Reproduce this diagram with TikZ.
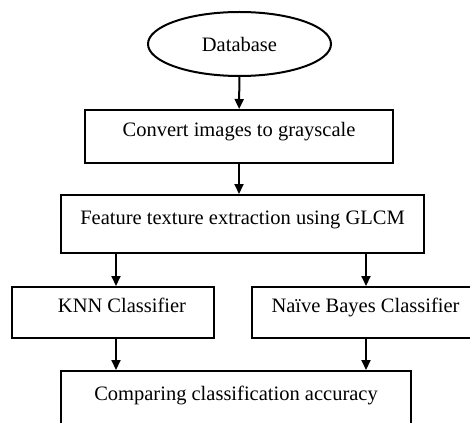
\documentclass[tikz,border=0pt]{standalone}
\usepackage{fontspec}
\setmainfont{Liberation Serif}
\usepackage{tikz}
\usetikzlibrary{shapes.geometric,arrows.meta}

\begin{document}
\begin{tikzpicture}[x=1pt,y=-1pt,font=\fontsize{20.5}{24}\selectfont]

%
% Styles
%
\tikzstyle{stepbox} = [rectangle,draw=black,line width=2pt,inner xsep=0pt,inner ysep=0pt]
\tikzstyle{source} = [ellipse,draw=black,line width=2pt,inner sep=0pt,minimum width=183pt,minimum height=64pt]
\tikzstyle{flow} = [line width=2pt,-{Triangle[width=9pt,length=10pt]}]

\clip (0,0) rectangle (470,422);

\node[source] (db) at (239.5, 44) {Database};
\node[stepbox,minimum width=308pt,text height=26.5pt,text depth=26.5pt] (conv) at (239, 136.5) {Convert images to grayscale};
\node[stepbox,minimum width=363pt,text height=29pt,text depth=29pt] (feat) at (242.5, 224) {Feature texture extraction using GLCM};
\node[stepbox,minimum width=202pt,text height=25.5pt,text depth=25.5pt] (knn) at (113, 312.5) {\hspace*{18pt}KNN Classifier};
\node[stepbox,minimum width=227pt,text height=25.5pt,text depth=25.5pt] (nb) at (365.5, 312.5) {Naïve Bayes Classifier};
\node[stepbox,minimum width=350pt,text height=29pt,text depth=29pt] (cmp) at (236, 400) {Comparing classification accuracy};

\coordinate (lx) at (116, 0);
\coordinate (rx) at (366, 0);

\draw[flow] (db) -- (conv);
\draw[flow] (conv) -- (feat.north -| conv);
\draw[flow] (feat.south -| lx) -- (knn.north -| lx);
\draw[flow] (feat.south -| rx) -- (nb.north -| rx);
\draw[flow] (knn.south -| lx) -- (cmp.north -| lx);
\draw[flow] (nb.south -| rx) -- (cmp.north -| rx);

\end{tikzpicture}
\end{document}
